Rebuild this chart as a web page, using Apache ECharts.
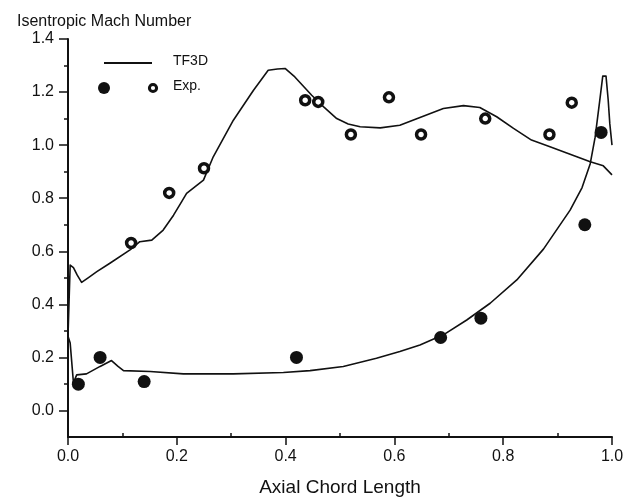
<html>
<head>
    <meta charset="utf-8">
    <title>Isentropic Mach Number</title>
    <script src="https://cdn.jsdelivr.net/npm/echarts@6/dist/echarts.min.js"></script>
    <style>
        body { margin: 0; background: #fff; }
    </style>
</head>
<body>
<div id="chartmain" style="width: 631px; height: 498px;"></div>
<script type="text/javascript">
    // TF3D 计算曲线 - 吸力面
    var tfSuctionX = [0.000, 0.004, 0.010, 0.017, 0.025, 0.037, 0.053, 0.077, 0.114, 0.132, 0.154, 0.175, 0.194, 0.209, 0.218, 0.249, 0.267, 0.304, 0.341, 0.368, 0.385, 0.399, 0.417, 0.448, 0.470, 0.494, 0.515, 0.537, 0.574, 0.610, 0.647, 0.690, 0.727, 0.757, 0.788, 0.819, 0.852, 0.886, 0.923, 0.960, 0.984, 1.000];
    var tfSuctionY = [0.28, 0.548, 0.538, 0.51, 0.483, 0.50, 0.523, 0.555, 0.605, 0.636, 0.642, 0.68, 0.736, 0.787, 0.818, 0.868, 0.956, 1.094, 1.207, 1.282, 1.287, 1.289, 1.257, 1.188, 1.144, 1.10, 1.08, 1.069, 1.065, 1.075, 1.104, 1.138, 1.149, 1.142, 1.107, 1.063, 1.019, 0.994, 0.966, 0.937, 0.922, 0.888];
    // TF3D 计算曲线 - 压力面
    var tfPressureX = [0.000, 0.004, 0.010, 0.016, 0.034, 0.059, 0.080, 0.092, 0.102, 0.151, 0.212, 0.304, 0.396, 0.445, 0.506, 0.567, 0.610, 0.647, 0.690, 0.733, 0.776, 0.825, 0.874, 0.923, 0.945, 0.960, 0.969, 0.977, 0.983, 0.989, 0.993, 0.996, 1.000];
    var tfPressureY = [0.28, 0.254, 0.105, 0.134, 0.138, 0.166, 0.188, 0.166, 0.15, 0.147, 0.138, 0.138, 0.143, 0.15, 0.166, 0.197, 0.222, 0.247, 0.285, 0.341, 0.404, 0.492, 0.608, 0.755, 0.84, 0.93, 1.03, 1.16, 1.26, 1.26, 1.17, 1.08, 1.0];
    // 实验值 - 吸力面 (空心)
    var expSuctionX = [0.116, 0.186, 0.250, 0.436, 0.460, 0.520, 0.590, 0.649, 0.767, 0.885, 0.926];
    var expSuctionY = [0.631, 0.82, 0.913, 1.169, 1.163, 1.04, 1.18, 1.04, 1.10, 1.04, 1.16];
    // 实验值 - 压力面 (实心)
    var expPressureX = [0.019, 0.059, 0.140, 0.420, 0.685, 0.759, 0.950, 0.980];
    var expPressureY = [0.099, 0.20, 0.109, 0.20, 0.275, 0.348, 0.70, 1.048];
    // 刻度
    var yMajorTicks = [0, 0.2, 0.4, 0.6, 0.8, 1.0, 1.2, 1.4];
    var yMinorTicks = [0.1, 0.3, 0.5, 0.7, 0.9, 1.1, 1.3];
    var xMinorTicks = [0.1, 0.3, 0.5, 0.7, 0.9];

    function pairs(xs, ys) {
        var out = [];
        for (var i = 0; i < xs.length; i++) {
            out.push([xs[i], ys[i]]);
        }
        return out;
    }

    var font = '"Liberation Sans", Arial, sans-serif';
    var black = '#111';

    var myChart = echarts.init(document.getElementById('chartmain'));
    var option = {
        animation: false,
        backgroundColor: '#fff',
        title: {
            text: 'Isentropic Mach Number',
            left: 12,
            top: 9,
            textStyle: { fontFamily: font, fontSize: 16, fontWeight: 'normal', color: black }
        },
        grid: { left: 68, right: 19, top: 39, bottom: 61, outerBoundsMode: 'none', containLabel: false },
        xAxis: [{
            type: 'value',
            min: 0, max: 1, interval: 0.2,
            name: 'Axial Chord Length',
            nameLocation: 'middle',
            nameGap: 41,
            nameTextStyle: { fontFamily: font, fontSize: 19, color: black },
            axisLine: { onZero: false, lineStyle: { color: black, width: 2 } },
            axisTick: { length: 8, lineStyle: { color: black, width: 1.5 } },
            axisLabel: {
                margin: 12, fontFamily: font, fontSize: 16, color: black,
                formatter: function (v) { return v.toFixed(1); }
            },
            splitLine: { show: false }
        }, {
            type: 'value',
            min: 0, max: 1,
            position: 'bottom',
            axisLine: { show: false, onZero: false },
            axisTick: { inside: true, length: 4, customValues: xMinorTicks, lineStyle: { color: black, width: 1.5 } },
            axisLabel: { show: false },
            splitLine: { show: false }
        }],
        yAxis: [{
            type: 'value',
            min: -0.1, max: 1.4,
            axisLine: { onZero: false, lineStyle: { color: black, width: 2 } },
            axisTick: { length: 9, customValues: yMajorTicks, lineStyle: { color: black, width: 1.5 } },
            axisLabel: {
                margin: 14, fontFamily: font, fontSize: 16, color: black,
                customValues: yMajorTicks,
                formatter: function (v) { return v.toFixed(1); }
            },
            splitLine: { show: false }
        }, {
            type: 'value',
            min: -0.1, max: 1.4,
            position: 'left',
            axisLine: { show: false, onZero: false },
            axisTick: { length: 4, customValues: yMinorTicks, lineStyle: { color: black, width: 1.5 } },
            axisLabel: { show: false },
            splitLine: { show: false }
        }],
        series: [{
            name: 'TF3D suction',
            type: 'line',
            data: pairs(tfSuctionX, tfSuctionY),
            showSymbol: false,
            lineStyle: { color: black, width: 1.6, join: 'round' },
            z: 2
        }, {
            name: 'TF3D pressure',
            type: 'line',
            data: pairs(tfPressureX, tfPressureY),
            showSymbol: false,
            lineStyle: { color: black, width: 1.6, join: 'round' },
            z: 2
        }, {
            name: 'Exp. suction',
            type: 'scatter',
            data: pairs(expSuctionX, expSuctionY),
            symbol: 'circle',
            symbolSize: 9,
            itemStyle: { color: '#fff', borderColor: black, borderWidth: 3.5, opacity: 1 },
            z: 3
        }, {
            name: 'Exp. pressure',
            type: 'scatter',
            data: pairs(expPressureX, expPressureY),
            symbol: 'circle',
            symbolSize: 13,
            itemStyle: { color: black, opacity: 1 },
            z: 3
        }],
        graphic: [
            { type: 'line', shape: { x1: 104, y1: 63, x2: 152, y2: 63 }, style: { stroke: black, lineWidth: 2 } },
            { type: 'text', left: 173, top: 54, style: { text: 'TF3D', font: '14px ' + font, fill: black } },
            { type: 'circle', shape: { cx: 104, cy: 88, r: 6 }, style: { fill: black } },
            { type: 'circle', shape: { cx: 153, cy: 88, r: 3.6 }, style: { fill: '#fff', stroke: black, lineWidth: 3 } },
            { type: 'text', left: 173, top: 79, style: { text: 'Exp.', font: '14px ' + font, fill: black } }
        ]
    };
    myChart.setOption(option);
</script>
</body>
</html>
